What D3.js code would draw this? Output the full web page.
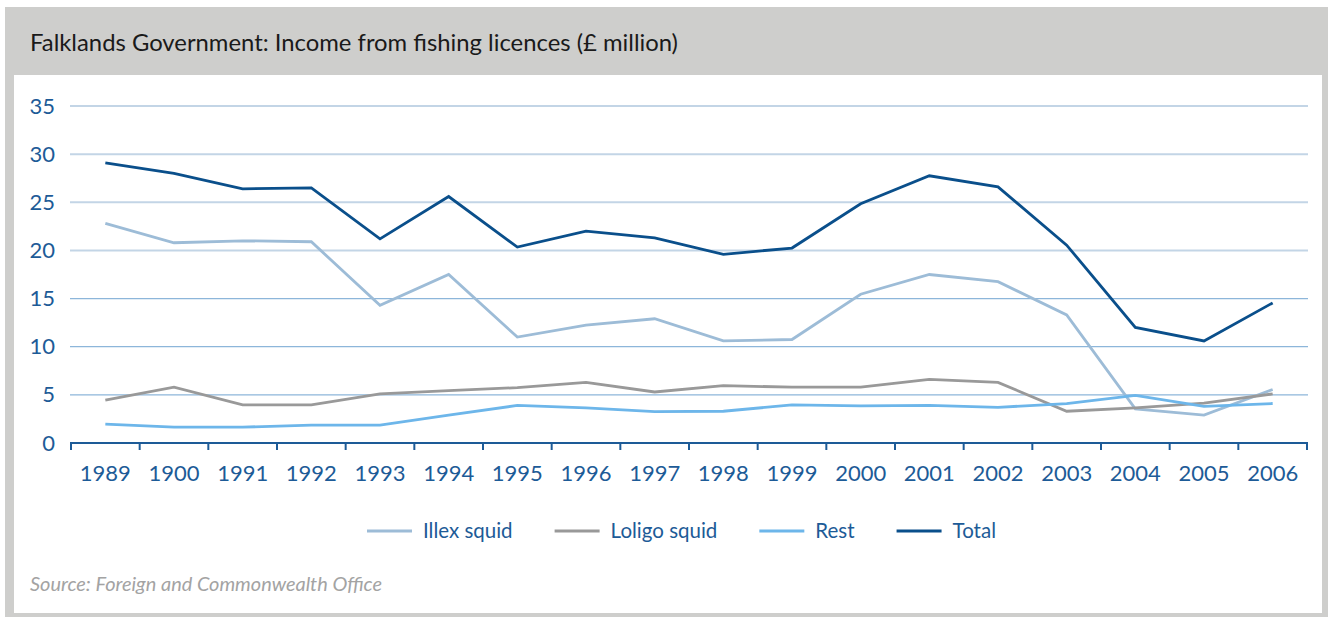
<!DOCTYPE html>
<html>
<head>
<meta charset="utf-8">
<script src="https://cdn.jsdelivr.net/npm/d3@7"></script>
<style>
  html, body { margin: 0; padding: 0; background: #ffffff; }
  svg { display: block; }
  text { font-family: Lato, "Open Sans", "DejaVu Sans", sans-serif; }
</style>
</head>
<body>
<svg id="chart" width="1328" height="617"></svg>
<script>
// ---- Data ----
const years = ["1989","1900","1991","1992","1993","1994","1995","1996","1997","1998","1999","2000","2001","2002","2003","2004","2005","2006"];
const illexSquid  = [22.8, 20.8, 21.0, 20.9, 14.3, 17.5, 11.0, 12.25, 12.9, 10.6, 10.75, 15.45, 17.5, 16.75, 13.3, 3.55, 2.9, 5.55];
const loligoSquid = [4.45, 5.8, 3.95, 3.95, 5.1, 5.45, 5.75, 6.3, 5.3, 5.95, 5.8, 5.8, 6.6, 6.3, 3.3, 3.65, 4.15, 5.1];
const rest        = [1.95, 1.65, 1.65, 1.85, 1.85, 2.9, 3.9, 3.65, 3.25, 3.3, 3.95, 3.85, 3.9, 3.7, 4.1, 4.95, 3.8, 4.1];
const total       = [29.1, 28.0, 26.4, 26.5, 21.2, 25.6, 20.35, 22.0, 21.3, 19.6, 20.25, 24.85, 27.75, 26.6, 20.55, 12.0, 10.6, 14.55];
const yTicks = [0, 5, 10, 15, 20, 25, 30, 35];
const seriesNames = ["Illex squid", "Loligo squid", "Rest", "Total"];
const seriesColors = ["#9dbcd7", "#999999", "#6db6ea", "#0a4f8b"];
const titleText = "Falklands Government: Income from fishing licences (£ million)";
const sourceText = "Source: Foreign and Commonwealth Office";

const seriesValues = [illexSquid, loligoSquid, rest, total];

const svg = d3.select("#chart");
const axisBlue = "#1d5b97";

// ---- Frame ----
svg.append("rect").attr("x", 5).attr("y", 7).attr("width", 1323).attr("height", 610).attr("fill", "#cececc");
svg.append("rect").attr("x", 14).attr("y", 75).attr("width", 1308).attr("height", 538).attr("fill", "#ffffff");

// Title
svg.append("text")
  .attr("x", 30).attr("y", 51)
  .attr("font-size", 23)
  .attr("fill", "#1a1a1a")
  .attr("textLength", 648)
  .attr("lengthAdjust", "spacingAndGlyphs")
  .text(titleText);

// ---- Scales ----
const x = d3.scaleBand().domain(years).range([71, 1307]).padding(0);
const y = d3.scaleLinear().domain([0, 35]).range([443, 106]);
const cx = d => x(d) + x.bandwidth() / 2;

// Gridlines
svg.append("g").selectAll("line")
  .data(yTicks.filter(t => t > 0))
  .join("line")
  .attr("x1", 70).attr("x2", 1308)
  .attr("y1", d => y(d)).attr("y2", d => y(d))
  .attr("stroke", d => d >= 20 ? "#c3d5e6" : "#8db6da")
  .attr("stroke-width", d => d >= 20 ? 2 : 1.2);

// Y axis labels
const yAxis = svg.append("g")
  .attr("transform", "translate(70,0)")
  .call(d3.axisLeft(y).tickValues(yTicks).tickSize(0).tickPadding(15).tickFormat(d3.format("d")));
yAxis.select(".domain").remove();
yAxis.selectAll("text").attr("font-size", 22).attr("fill", axisBlue).attr("font-family", "Lato, 'Open Sans', sans-serif");

// X axis
const xAxis = svg.append("g")
  .attr("transform", "translate(0,443)")
  .call(d3.axisBottom(x).tickSize(0).tickPadding(22));
xAxis.select(".domain").remove();
xAxis.selectAll("text").attr("font-size", 22).attr("fill", axisBlue).attr("font-family", "Lato, 'Open Sans', sans-serif");

svg.append("line")
  .attr("x1", 70).attr("x2", 1308)
  .attr("y1", 443).attr("y2", 443)
  .attr("stroke", axisBlue).attr("stroke-width", 2);

const boundaries = years.map(d => x(d)).concat([x.range()[1]]);
svg.append("g").selectAll("line")
  .data(boundaries)
  .join("line")
  .attr("x1", d => d).attr("x2", d => d)
  .attr("y1", 443).attr("y2", 450)
  .attr("stroke", axisBlue).attr("stroke-width", 2);

// ---- Lines ----
const line = d3.line()
  .x((v, i) => cx(years[i]))
  .y(v => y(v));

svg.append("g").selectAll("path")
  .data(seriesValues)
  .join("path")
  .attr("d", d => line(d))
  .attr("fill", "none")
  .attr("stroke", (d, i) => seriesColors[i])
  .attr("stroke-width", 2.8)
  .attr("stroke-linejoin", "miter");

// ---- Legend ----
const legend = svg.append("g");
let lx = 367;
seriesNames.forEach((name, i) => {
  legend.append("line")
    .attr("x1", lx).attr("x2", lx + 45)
    .attr("y1", 531).attr("y2", 531)
    .attr("stroke", seriesColors[i]).attr("stroke-width", 3);
  const t = legend.append("text")
    .attr("x", lx + 56).attr("y", 531)
    .attr("dy", "0.35em")
    .attr("font-size", 20.5)
    .attr("fill", axisBlue)
    .text(name);
  lx += 56 + t.node().getComputedTextLength() + 42;
});

// ---- Source ----
svg.append("text")
  .attr("x", 30).attr("y", 591)
  .attr("font-size", 18.5)
  .attr("font-style", "italic")
  .attr("fill", "#a3a3a3")
  .attr("textLength", 352)
  .attr("lengthAdjust", "spacingAndGlyphs")
  .text(sourceText);
</script>
</body>
</html>
